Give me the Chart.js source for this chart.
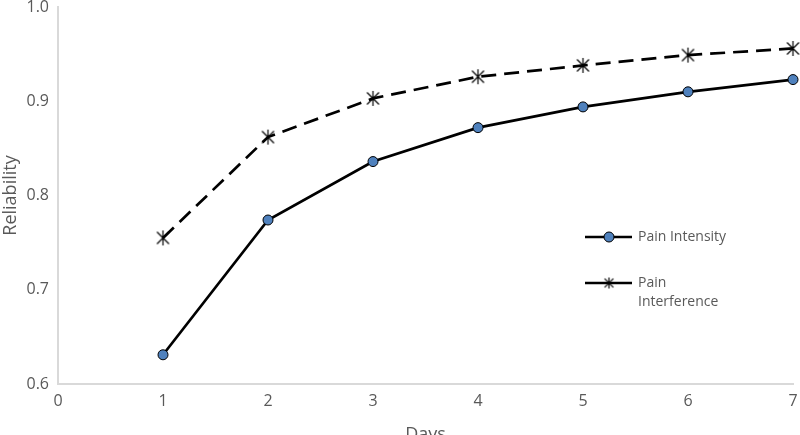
<!DOCTYPE html>
<html>
<head>
<meta charset="utf-8">
<script src="https://cdn.jsdelivr.net/npm/chart.js@4"></script>
<style>
  html, body { margin: 0; padding: 0; background: #fff; overflow: hidden; }
  #wrap { width: 800px; height: 435px; overflow: hidden; }
</style>
</head>
<body>
<div id="wrap"><canvas id="chart" width="800" height="450"></canvas></div>
<script>
const days = [1, 2, 3, 4, 5, 6, 7];
const painIntensity = [0.631, 0.774, 0.836, 0.872, 0.894, 0.910, 0.923];
const painInterference = [0.755, 0.862, 0.903, 0.926, 0.938, 0.949, 0.956];
const yTicks = [0.6, 0.7, 0.8, 0.9, 1.0];
const xTicks = [0, 1, 2, 3, 4, 5, 6, 7];

// excel-style star marker: X plus a vertical bar
function starMarker(size) {
    const c = document.createElement('canvas');
    c.width = size; c.height = size;
    const g = c.getContext('2d');
    const m = size / 2, r = size / 2 - 1;
    g.strokeStyle = '#000';
    g.lineWidth = 1.2;
    g.beginPath();
    g.moveTo(m, m - r); g.lineTo(m, m + r);
    const d = r * 0.8;
    g.moveTo(m - d, m - d); g.lineTo(m + d, m + d);
    g.moveTo(m - d, m + d); g.lineTo(m + d, m - d);
    g.stroke();
    return c;
}
const star = starMarker(17);
const starSmall = starMarker(13);

const fontFamily = "'Open Sans', 'DejaVu Sans', sans-serif";
const grey = '#595959';

const legendPlugin = {
    id: 'customLegend',
    afterDraw(chart) {
        const ctx = chart.ctx;
        ctx.save();
        ctx.lineWidth = 2.5;
        ctx.strokeStyle = '#000';
        // Pain Intensity
        ctx.beginPath(); ctx.moveTo(585, 237); ctx.lineTo(632, 237); ctx.stroke();
        ctx.beginPath(); ctx.arc(609, 237, 5, 0, Math.PI * 2);
        ctx.fillStyle = '#4F81BD'; ctx.fill();
        ctx.lineWidth = 1; ctx.stroke();
        // Pain Interference
        ctx.lineWidth = 2.5;
        ctx.beginPath(); ctx.moveTo(585, 283); ctx.lineTo(632, 283); ctx.stroke();
        ctx.drawImage(starSmall, 609 - 6.5, 283 - 6.5);
        ctx.fillStyle = grey;
        ctx.font = '14px ' + fontFamily;
        ctx.textBaseline = 'middle';
        ctx.fillText(chart.data.datasets[0].label, 638, 237);
        ctx.fillText('Pain', 638, 283);
        ctx.fillText('Interference', 638, 302);
        ctx.restore();
    }
};

const ctx = document.getElementById('chart').getContext('2d');
new Chart(ctx, {
    type: 'line',
    data: {
        datasets: [
            {
                label: 'Pain Intensity',
                data: days.map((d, i) => ({ x: d, y: painIntensity[i] })),
                borderColor: '#000',
                borderWidth: 2.7,
                pointStyle: 'circle',
                pointRadius: 5,
                pointBackgroundColor: '#4F81BD',
                pointBorderColor: '#000',
                pointBorderWidth: 1,
                tension: 0,
                clip: false
            },
            {
                label: 'Pain Interference',
                data: days.map((d, i) => ({ x: d, y: painInterference[i] })),
                borderColor: '#000',
                borderWidth: 2.7,
                borderDash: [15, 8],
                pointStyle: star,
                pointRadius: 8,
                tension: 0,
                clip: false
            }
        ]
    },
    options: {
        responsive: false,
        animation: false,
        layout: { autoPadding: false, padding: { top: 7, right: 7, left: 0, bottom: 0 } },
        plugins: {
            legend: { display: false },
            tooltip: { enabled: false }
        },
        scales: {
            x: {
                type: 'linear',
                min: 0,
                max: 7,
                afterBuildTicks(axis) { axis.ticks = xTicks.map(v => ({ value: v })); },
                afterFit(axis) {
                    axis.height = 66;
                    axis.paddingLeft = 0;
                    axis.paddingRight = 0;
                },
                grid: { display: false, drawTicks: true, tickLength: 5, color: '#d9d9d9' },
                border: { color: '#d9d9d9', width: 2 },
                ticks: { color: grey, font: { family: fontFamily, size: 16 }, padding: 3 },
                title: {
                    display: true,
                    text: 'Days',
                    color: grey,
                    font: { family: fontFamily, size: 18 },
                    padding: { top: 0 }
                }
            },
            y: {
                min: 0.6,
                max: 1.0,
                afterBuildTicks(axis) { axis.ticks = yTicks.map(v => ({ value: v })); },
                afterFit(axis) {
                    axis.width = 58;
                    axis.paddingTop = 0;
                    axis.paddingBottom = 0;
                },
                grid: { display: false, drawTicks: true, tickLength: 5, color: '#d9d9d9' },
                border: { color: '#d9d9d9', width: 2 },
                ticks: {
                    color: grey,
                    font: { family: fontFamily, size: 16 },
                    padding: 4,
                    callback: v => v.toFixed(1)
                },
                title: {
                    display: true,
                    text: 'Reliability',
                    color: grey,
                    font: { family: fontFamily, size: 18 },
                    padding: { top: 0, bottom: 0 }
                }
            }
        }
    },
    plugins: [legendPlugin]
});
</script>
</body>
</html>
